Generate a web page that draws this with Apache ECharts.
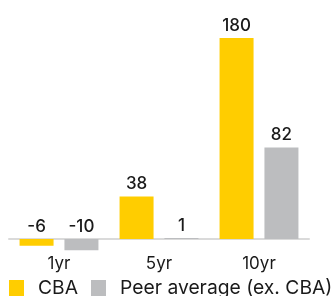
<!DOCTYPE html>
<html>
<head>
<meta charset="utf-8">
<script src="https://cdn.jsdelivr.net/npm/echarts@6/dist/echarts.min.js"></script>
<style>
  html, body { margin: 0; padding: 0; background: #fff; }
  #chart { width: 336px; height: 296px; }
</style>
</head>
<body>
<div id="chart"></div>
<script>
let periods = ['1yr', '5yr', '10yr'];
let cbaValues = [-6, 38, 180];
let peerValues = [-10, 1, 82];

let chart = echarts.init(document.getElementById('chart'));
let labelStyle = {
    show: true,
    position: 'top',
    distance: 4,
    color: '#1a1a1a',
    fontFamily: 'Inter',
    fontSize: 17,
    fontWeight: 500
};
let option = {
    animation: false,
    textStyle: { fontFamily: 'Inter' },
    grid: {
        left: 9,
        right: 27,
        top: 15.6,
        bottom: 44.7
    },
    legend: {
        left: 9,
        top: 279,
        padding: 0,
        itemWidth: 15,
        itemHeight: 17,
        itemGap: 13,
        icon: 'rect',
        textStyle: {
            color: '#1a1a1a',
            fontSize: 19.3,
            lineHeight: 17,
            fontFamily: 'Inter',
            padding: [0, 0, 0, 9]
        },
        data: ['CBA', 'Peer average (ex. CBA)']
    },
    xAxis: {
        type: 'category',
        data: periods,
        axisLine: { onZero: true, lineStyle: { color: '#dadada', width: 2 } },
        axisTick: { show: false },
        axisLabel: { margin: 4, color: '#1a1a1a', fontSize: 17, fontFamily: 'Inter' }
    },
    yAxis: {
        type: 'value',
        min: -11,
        max: 200,
        show: false,
        splitLine: { show: false }
    },
    series: [
        {
            name: 'CBA',
            type: 'bar',
            barWidth: 34,
            barGap: '32%',
            itemStyle: { color: '#ffcd00' },
            label: labelStyle,
            data: cbaValues
        },
        {
            name: 'Peer average (ex. CBA)',
            type: 'bar',
            barWidth: 34,
            itemStyle: { color: '#bcbdbf' },
            label: labelStyle,
            data: peerValues
        }
    ]
};
chart.setOption(option);
</script>
</body>
</html>
